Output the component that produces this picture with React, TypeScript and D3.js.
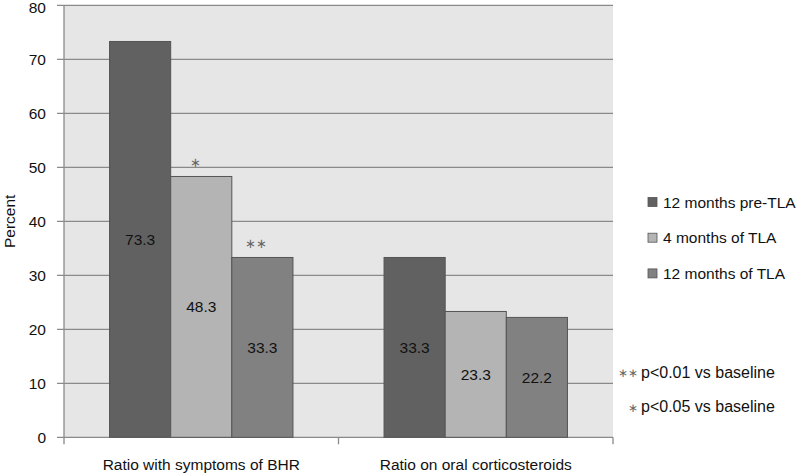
import React from "react";
import * as d3 from "d3";

const categories = ["Ratio with symptoms of BHR", "Ratio on oral corticosteroids"];
const seriesNames = ["12 months pre-TLA", "4 months of TLA", "12 months of TLA"];
const seriesColors = ["#616161", "#b4b4b4", "#818181"];
const values = [
  [73.3, 48.3, 33.3],
  [33.3, 23.3, 22.2],
];
const labels = [
  ["73.3", "48.3", "33.3"],
  ["33.3", "23.3", "22.2"],
];
const marks = [
  ["", "∗", "∗∗"],
  ["", "", ""],
];
const yTicks = [0, 10, 20, 30, 40, 50, 60, 70, 80];
const notes = [
  { sym: "∗∗", text: "p<0.01 vs baseline" },
  { sym: "∗", text: "p<0.05 vs baseline" },
];

const W = 798;
const H = 475;
const left = 64;
const right = 613;
const top = 5.3;
const bottom = 437.3;
const font = "Liberation Sans, Arial, Helvetica, sans-serif";

export default function App() {
  const y = d3.scaleLinear().domain([0, 80]).range([bottom, top]);
  const x0 = d3.scaleBand<string>().domain(categories).range([left, right]).paddingInner(0).paddingOuter(0);
  const x1 = d3
    .scaleBand<string>()
    .domain(seriesNames)
    .range([0, x0.bandwidth()])
    .paddingInner(0)
    .paddingOuter(0.745);

  return (
    <svg width={W} height={H} style={{ position: "absolute", left: 0, top: 0, background: "#fff" }}>
      <rect x={left} y={top} width={right - left} height={bottom - top} fill="#e6e6e6" />
      {yTicks.map((t) => (
        <g key={t}>
          <line x1={left - 7} x2={right} y1={y(t)} y2={y(t)} stroke="#8a8a8a" strokeWidth={1.3} />
          <text
            x={46}
            y={Math.max(y(t) + 6, 12.8)}
            textAnchor="end"
            fontFamily={font}
            fontSize={15.5}
            fill="#111"
          >
            {t}
          </text>
        </g>
      ))}
      <line x1={left} x2={left} y1={top} y2={bottom} stroke="#8a8a8a" strokeWidth={1.3} />
      {[left, left + x0.bandwidth(), right].map((xx, i) => (
        <line key={i} x1={xx} x2={xx} y1={bottom} y2={bottom + 7} stroke="#8a8a8a" strokeWidth={1.3} />
      ))}
      {categories.map((c, ci) => (
        <g key={c} transform={`translate(${x0(c)},0)`}>
          {seriesNames.map((s, si) => {
            const v = values[ci][si];
            const bx = x1(s)!;
            const bw = x1.bandwidth();
            return (
              <g key={s}>
                <rect
                  x={bx}
                  y={y(v)}
                  width={bw}
                  height={bottom - y(v)}
                  fill={seriesColors[si]}
                  stroke="#555"
                  strokeWidth={1}
                />
                <text
                  x={bx + bw / 2}
                  y={(y(v) + bottom) / 2 + 5.5}
                  textAnchor="middle"
                  fontFamily={font}
                  fontSize={15.5}
                  fill="#111"
                >
                  {labels[ci][si]}
                </text>
                {marks[ci][si] && (
                  <text
                    x={bx + bw / 2 - 6}
                    y={y(v) - 9}
                    textAnchor="middle"
                    fontFamily={font}
                    fontSize={13}
                    fill="#666"
                  >
                    {marks[ci][si]}
                  </text>
                )}
              </g>
            );
          })}
          <text
            x={x0.bandwidth() / 2}
            y={470}
            textAnchor="middle"
            fontFamily={font}
            fontSize={15.5}
            fill="#111"
          >
            {c}
          </text>
        </g>
      ))}
      <text
        transform={`translate(15,${(top + bottom) / 2}) rotate(-90)`}
        textAnchor="middle"
        fontFamily={font}
        fontSize={15.5}
        fill="#111"
      >
        Percent
      </text>
      {seriesNames.map((s, i) => (
        <g key={s} transform={`translate(648,${202 + i * 35.7})`}>
          <rect x={0} y={-4.5} width={9} height={9} fill={seriesColors[i]} stroke="#555" strokeWidth={0.8} />
          <text x={15} y={5.5} fontFamily={font} fontSize={15.5} fill="#111">
            {s}
          </text>
        </g>
      ))}
      {notes.map((n, i) => (
        <g key={i} transform={`translate(641,${372 + i * 34.5})`}>
          <text x={-3} y={5} textAnchor="end" fontFamily={font} fontSize={12} fill="#666">
            {n.sym}
          </text>
          <text x={0} y={5.5} fontFamily={font} fontSize={16} fill="#111">
            {n.text}
          </text>
        </g>
      ))}
    </svg>
  );
}
